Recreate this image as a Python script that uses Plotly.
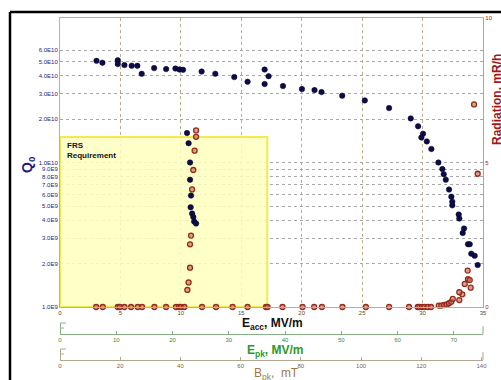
import math
import plotly.graph_objects as go

# ---------------- data ----------------
q0_eacc = [3.02, 3.51, 4.78, 4.78, 5.33, 5.93, 6.40, 6.76, 7.79, 8.78, 9.55, 9.88, 10.18,
           11.72, 12.85, 14.42, 15.52, 16.93, 17.26, 16.93, 18.45, 20.02, 21.06, 21.64,
           23.35, 25.22, 27.23, 29.02, 29.63, 30.04, 29.90, 30.35, 30.73, 31.31, 31.64,
           31.75, 31.92, 32.19, 32.38, 32.46, 32.46, 32.99, 33.04, 33.43, 33.32, 33.76,
           33.90, 34.03, 34.31, 34.56]
q0_vals = [5.05e10, 4.9e10, 5.1e10, 4.8e10, 4.72e10, 4.67e10, 4.67e10, 4.11e10, 4.5e10,
           4.43e10, 4.47e10, 4.4e10, 4.38e10, 4.26e10, 4.11e10, 3.9e10, 3.62e10, 4.4e10,
           3.96e10, 3.49e10, 3.38e10, 3.22e10, 3.17e10, 3.07e10, 2.9e10, 2.69e10, 2.38e10,
           2.02e10, 1.78e10, 1.58e10, 1.49e10, 1.40e10, 1.24e10, 1.0e10, 9.0e9, 8.3e9,
           7.6e9, 6.5e9, 5.8e9, 5.36e9, 5.05e9, 4.37e9, 4.09e9, 3.49e9, 3.25e9, 2.72e9,
           2.72e9, 2.34e9, 2.26e9, 1.95e9]

q0b_eacc = [10.51, 10.64, 10.76, 10.76, 10.84, 10.81, 10.93, 11.03, 11.10, 11.26]
q0b_vals = [1.6e10, 1.36e10, 1.0e10, 7.6e9, 5.9e9, 4.9e9, 4.43e9, 4.2e9, 3.9e9, 3.78e9]

rad_eacc = [2.99, 3.54, 4.78, 4.95, 5.33, 5.88, 6.43, 6.79, 7.81, 8.78, 9.60, 9.85, 10.02,
            10.29, 11.75, 12.91, 14.28, 15.52, 17.04, 17.17, 18.41, 20.07, 21.03, 21.67,
            23.37, 25.31, 27.23, 28.88, 29.60, 29.74, 29.96, 30.15, 30.43, 30.70,
            31.34, 31.55, 31.78, 32.00, 32.19, 32.38, 32.50, 33.04, 33.29, 33.04, 33.49,
            33.98, 33.73, 33.76, 33.90, 34.56, 34.26, 35.25,
            10.54, 10.64, 10.76, 10.76, 10.84, 10.93, 11.03, 11.14, 11.26, 11.26]
rad_vals = [0, 0, 0, 0, 0, 0, 0, 0, 0, 0, 0, 0, 0,
            0, 0, 0, 0, 0, 0, 0, 0, 0, 0, 0,
            0, 0, 0, 0, 0, 0, 0, 0, 0, 0,
            0.05, 0.05, 0.07, 0.09, 0.13, 0.18, 0.28, 0.24, 0.44, 0.51, 0.80,
            0.67, 1.26, 0.96, 0.93, 4.61, 7.01, 0.05,
            0.59, 0.85, 1.36, 2.17, 2.47, 4.07, 4.74, 5.41, 5.89, 6.11]

q_tickvals = [1e9, 2e9, 3e9, 4e9, 5e9, 6e9, 7e9, 8e9, 9e9, 1e10, 2e10, 3e10, 4e10, 5e10, 6e10]
q_ticktext = ["1.0E9", "2.0E9", "3.0E9", "4.0E9", "5.0E9", "6.0E9", "7.0E9", "8.0E9",
              "9.0E9", "1.0E10", "2.0E10", "3.0E10", "4.0E10", "5.0E10", "6.0E10"]
eacc_ticks = [0, 5, 10, 15, 20, 25, 30, 35]
epk_ticks = [0, 10, 20, 30, 40, 50, 60, 70]
bpk_ticks = [0, 20, 40, 60, 80, 100, 120, 140]
rad_ticks = [0, 5, 10]

epk_max = 75.2
bpk_max = 140.5
frs_eacc_max = 17.15
frs_q0 = 1.5e10

# ---------------- layout geometry ----------------
W, H = 501, 380
ML, MR, MT, MB = 60, 18, 18, 5
PW, PH = W - ML - MR, H - MT - MB


def px(xp):
    return (xp - ML) / PW


def py(yp):
    return (H - MB - yp) / PH


fig = go.Figure()

# FRS requirement box (drawn as a filled area from its limits)
fig.add_trace(go.Scatter(
    x=[0, frs_eacc_max, frs_eacc_max, 0, 0],
    y=[1e9, 1e9, frs_q0, frs_q0, 1e9],
    mode="lines", fill="toself", fillcolor="rgba(255,255,190,0.85)",
    line=dict(color="#f2ea50", width=2), hoverinfo="skip", showlegend=False))

# empty traces so the secondary x axes get drawn
fig.add_trace(go.Scatter(x=[], y=[], xaxis="x2", showlegend=False))
fig.add_trace(go.Scatter(x=[], y=[], xaxis="x3", showlegend=False))

fig.add_trace(go.Scatter(
    x=rad_eacc, y=rad_vals, yaxis="y2", mode="markers", cliponaxis=False,
    marker=dict(size=5, color="rgba(200,120,90,0.7)",
                line=dict(color="#952a1c", width=1.3)),
    showlegend=False))
fig.add_trace(go.Scatter(
    x=q0_eacc, y=q0_vals, mode="markers",
    marker=dict(size=5.5, color="#0c0c48", line=dict(color="#05052a", width=0.5)),
    showlegend=False))
fig.add_trace(go.Scatter(
    x=q0b_eacc, y=q0b_vals, mode="markers",
    marker=dict(size=5.5, color="#0c0c48", line=dict(color="#05052a", width=0.5)),
    showlegend=False))

tickfont = dict(family="Liberation Sans", size=6)

fig.update_layout(
    width=W, height=H,
    margin=dict(l=ML, r=MR, t=MT, b=MB),
    paper_bgcolor="white", plot_bgcolor="white",
    showlegend=False,
    xaxis=dict(
        range=[0, 35], tickvals=eacc_ticks, ticktext=[str(v) for v in eacc_ticks],
        showgrid=True, gridcolor="#b8ad90", griddash="dot", gridwidth=1,
        zeroline=False, showline=True, linecolor="#b0b0b0", linewidth=1,
        mirror=True, ticks="", tickfont=dict(tickfont, color="#5a4a30"),
        anchor="y", automargin=False, layer="above traces",
    ),
    yaxis=dict(
        type="log", range=[9, 11], domain=[py(307), 1],
        tickvals=q_tickvals, ticktext=q_ticktext,
        showgrid=True, gridcolor="#a8a8a8", griddash="dot", gridwidth=1,
        zeroline=False, showline=True, linecolor="#b0b0b0", linewidth=1,
        ticks="", tickfont=dict(tickfont, color="#1a1a80"), automargin=False,
    ),
    yaxis2=dict(
        range=[0, 10], overlaying="y", side="right", anchor="x",
        tickvals=rad_ticks, ticktext=[str(v) for v in rad_ticks],
        showgrid=False, zeroline=False, showline=True, linecolor="#9ab09a",
        linewidth=1.2, ticks="", tickfont=dict(tickfont, color="#a01818"),
        automargin=False,
    ),
    xaxis2=dict(
        range=[0, epk_max], overlaying="x", anchor="free", position=py(334),
        tickvals=epk_ticks, ticktext=[str(v) for v in epk_ticks],
        showgrid=False, zeroline=False, showline=True, linecolor="#88b088",
        linewidth=1.2, ticks="inside", ticklen=3, tickcolor="#88b088",
        tickfont=dict(tickfont, color="#3a8a3a"), automargin=False,
    ),
    xaxis3=dict(
        range=[0, bpk_max], overlaying="x", anchor="free", position=py(360),
        tickvals=bpk_ticks, ticktext=[str(v) for v in bpk_ticks],
        showgrid=False, zeroline=False, showline=True, linecolor="#b0a890",
        linewidth=1.2, ticks="inside", ticklen=3, tickcolor="#b0a890",
        tickfont=dict(tickfont, color="#806040"), automargin=False,
    ),
)

fig.add_annotation(x=px(65), xref="paper", y=py(139), yref="paper",
                   text="<b>FRS<br>Requirement</b>", showarrow=False,
                   xanchor="left", yanchor="top", align="left",
                   font=dict(family="Liberation Sans", size=8, color="#111"))

# Outer frame
fig.add_shape(type="line", xref="paper", yref="paper", x0=px(10), x1=px(505),
              y0=py(12), y1=py(12), line=dict(color="black", width=2.5))
fig.add_shape(type="line", xref="paper", yref="paper", x0=px(10), x1=px(10),
              y0=py(12), y1=py(385), line=dict(color="black", width=2.5))

# "F" caps on the secondary axes
for base, col in [(334, "#88b088"), (360, "#b0a890")]:
    fig.add_shape(type="line", xref="paper", yref="paper", x0=px(60.5), x1=px(60.5),
                  y0=py(base), y1=py(base - 11), line=dict(color=col, width=1))
    fig.add_shape(type="line", xref="paper", yref="paper", x0=px(60.5), x1=px(66),
                  y0=py(base - 11), y1=py(base - 11), line=dict(color=col, width=1))
    fig.add_shape(type="line", xref="paper", yref="paper", x0=px(60.5), x1=px(64),
                  y0=py(base - 6), y1=py(base - 6), line=dict(color=col, width=1))
    fig.add_shape(type="line", xref="paper", yref="paper", x0=px(483), x1=px(483),
                  y0=py(base), y1=py(base - 8), line=dict(color=col, width=1))

# Axis titles
fig.add_annotation(x=px(272), y=py(324), xref="paper", yref="paper",
                   text="<b>E<sub>acc</sub>, MV/m</b>", showarrow=False,
                   xanchor="center", yanchor="middle",
                   font=dict(family="Liberation Sans", size=12, color="#111"))
fig.add_annotation(x=px(275), y=py(351), xref="paper", yref="paper",
                   text="<b>E<sub>pk</sub>, MV/m</b>", showarrow=False,
                   xanchor="center", yanchor="middle",
                   font=dict(family="Liberation Sans", size=12, color="#2a9a2a"))
fig.add_annotation(x=px(276), y=py(374), xref="paper", yref="paper",
                   text="B<sub>pk</sub>,  mT", showarrow=False,
                   xanchor="center", yanchor="middle",
                   font=dict(family="Liberation Sans", size=12, color="#a07848"))
fig.add_annotation(x=px(28), y=py(165), xref="paper", yref="paper",
                   text="<b>Q<sub>0</sub></b>", textangle=-90, showarrow=False,
                   xanchor="center", yanchor="middle",
                   font=dict(family="Liberation Sans", size=14, color="#1a1a80"))
fig.add_annotation(x=px(497), y=py(100), xref="paper", yref="paper",
                   text="<b>Radiation, mR/h</b>", textangle=-90, showarrow=False,
                   xanchor="center", yanchor="middle",
                   font=dict(family="Liberation Sans", size=12, color="#a01818"))

fig.write_html("out.html", post_script="document.body.style.margin='0';",
               config={"displayModeBar": False})
